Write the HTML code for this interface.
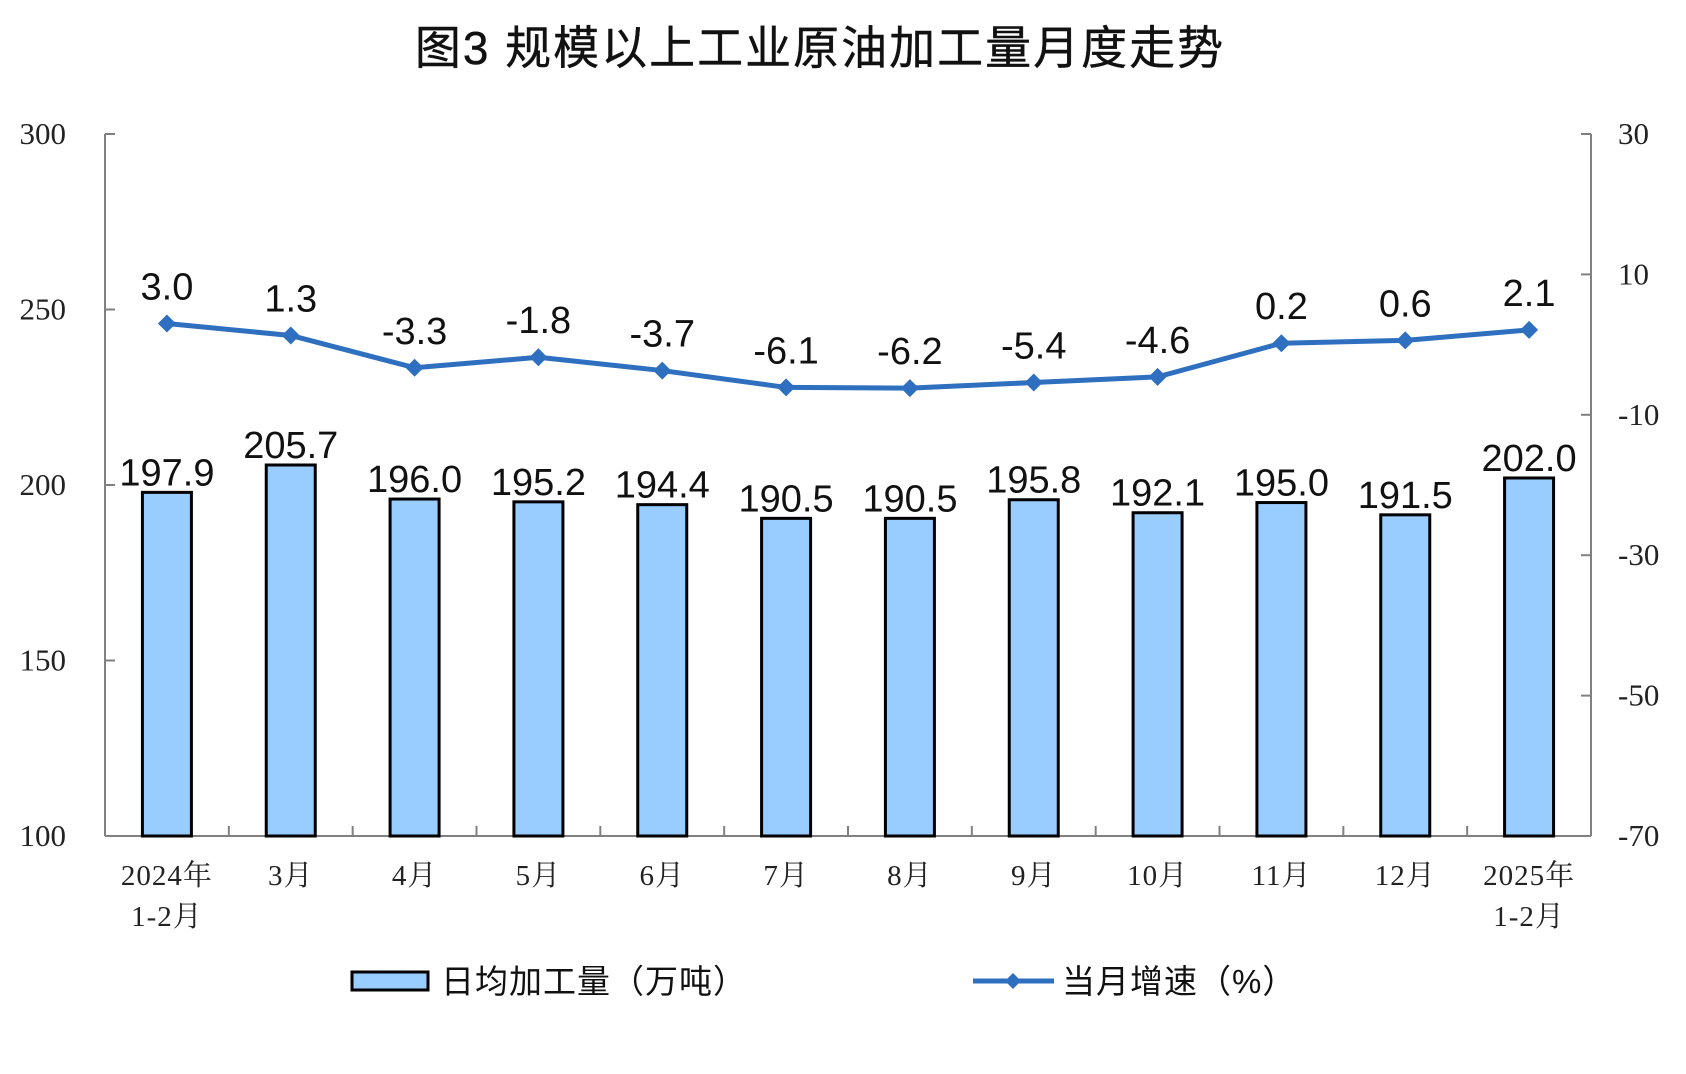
<!DOCTYPE html>
<html><head><meta charset="utf-8"><style>
html,body{margin:0;padding:0;background:#fff;}
svg{display:block;}
</style></head><body>
<svg id="chart" width="1686" height="1074" viewBox="0 0 1686 1074" xmlns="http://www.w3.org/2000/svg">
<text x="820" y="64" text-anchor="middle" font-family="'Liberation Sans','Noto Sans CJK SC',sans-serif" font-size="46" letter-spacing="2" fill="#111" stroke="#111" stroke-width="0.4">图3  规模以上工业原油加工量月度走势</text>
<g id="axes"></g>
<g id="bars"></g>
<g id="line"></g>
<g>
<rect x="352" y="972" width="76" height="18" fill="#99CCFF" stroke="#000" stroke-width="3"/>
<text x="441" y="993" font-family="'Liberation Sans','Noto Sans CJK SC',sans-serif" font-size="33" letter-spacing="1" fill="#111">日均加工量（万吨）</text>
<line x1="973" y1="981" x2="1054" y2="981" stroke="#2F6FBF" stroke-width="5"/>
<path d="M1013 973 L1021 981 L1013 989 L1005 981 Z" fill="#2F6FBF"/>
<text x="1062" y="993" font-family="'Liberation Sans','Noto Sans CJK SC',sans-serif" font-size="33" letter-spacing="1" fill="#111">当月增速（%）</text>
</g>
</svg>
<script>
const categories1 = ["2024年","3月","4月","5月","6月","7月","8月","9月","10月","11月","12月","2025年"];
const categories2 = ["1-2月","","","","","","","","","","","1-2月"];
const barValues = [197.9,205.7,196.0,195.2,194.4,190.5,190.5,195.8,192.1,195.0,191.5,202.0];
const lineValues = [3.0,1.3,-3.3,-1.8,-3.7,-6.1,-6.2,-5.4,-4.6,0.2,0.6,2.1];
const leftTicks = [100,150,200,250,300];
const rightTicks = [-70,-50,-30,-10,10,30];

const NS="http://www.w3.org/2000/svg";
const X0=105,X1=1591,Y0=836,Y1=134;
const n=categories1.length, step=(X1-X0)/n;
const xC=i=>X0+(i+0.5)*step;
const yL=v=>Y0-(v-100)/200*(Y0-Y1);
const yR=v=>Y0-(v+70)/100*(Y0-Y1);
function mk(tag,attrs,parent,text){const e=document.createElementNS(NS,tag);for(const k in attrs)e.setAttribute(k,attrs[k]);if(text!==undefined)e.textContent=text;parent.appendChild(e);return e;}
const axes=document.getElementById('axes'),bars=document.getElementById('bars'),line=document.getElementById('line');
const G="#808080";
let e;
e=mk('line',{x1:X0,y1:Y1,x2:X0,y2:Y0,stroke:G,'stroke-width':2},axes);


e=mk('line',{x1:X1,y1:Y1,x2:X1,y2:Y0,stroke:G,'stroke-width':2},axes);


e=mk('line',{x1:X0,y1:Y0,x2:X1,y2:Y0,stroke:G,'stroke-width':2},axes);


const serif="'Liberation Serif','Noto Serif CJK SC',serif";
leftTicks.forEach(v=>{
  mk('line',{x1:X0,y1:yL(v),x2:X0+10,y2:yL(v),stroke:G,'stroke-width':2},axes);
  e=mk('text',{x:66,y:yL(v)+10,'text-anchor':'end','font-family':serif,'font-size':31,fill:'#222'},axes,String(v));
  
  
});
rightTicks.forEach(v=>{
  mk('line',{x1:X1-10,y1:yR(v),x2:X1,y2:yR(v),stroke:G,'stroke-width':2},axes);
  e=mk('text',{x:1618,y:yR(v)+10,'font-family':serif,'font-size':31,fill:'#222'},axes,String(v));
  
  
});
for(let i=1;i<n;i++){mk('line',{x1:X0+i*step,y1:Y0-10,x2:X0+i*step,y2:Y0,stroke:G,'stroke-width':2},axes);}
categories1.forEach((c,i)=>{
  e=mk('text',{x:xC(i),y:885,'text-anchor':'middle','font-family':serif,'font-size':29,'letter-spacing':1,fill:'#222'},axes,c);
  
  
  if(categories2[i]){
    e=mk('text',{x:xC(i),y:926,'text-anchor':'middle','font-family':serif,'font-size':29,'letter-spacing':1,fill:'#222'},axes,categories2[i]);
    
    
  }
});
const sans="'Liberation Sans',sans-serif";
const bw=49;
barValues.forEach((v,i)=>{
  e=mk('rect',{x:xC(i)-bw/2,y:yL(v),width:bw,height:Y0-yL(v),fill:'#99CCFF',stroke:'#000','stroke-width':3},bars);
  
  
  e=mk('text',{x:xC(i),y:yL(v)-7,'text-anchor':'middle','font-family':sans,'font-size':38,fill:'#111'},bars,v.toFixed(1));
  
  
});
const pts=lineValues.map((v,i)=>xC(i)+','+yR(v)).join(' ');
e=mk('polyline',{points:pts,fill:'none',stroke:'#2F6FBF','stroke-width':5,'stroke-linejoin':'round'},line);


lineValues.forEach((v,i)=>{
  const x=xC(i),y=yR(v);
  e=mk('path',{d:`M${x} ${y-9} L${x+9} ${y} L${x} ${y+9} L${x-9} ${y} Z`,fill:'#2F6FBF'},line);
  
  
  e=mk('text',{x:x,y:y-24,'text-anchor':'middle','font-family':sans,'font-size':38,fill:'#111'},line,v.toFixed(1));
  
  
});
</script>
</body></html>
